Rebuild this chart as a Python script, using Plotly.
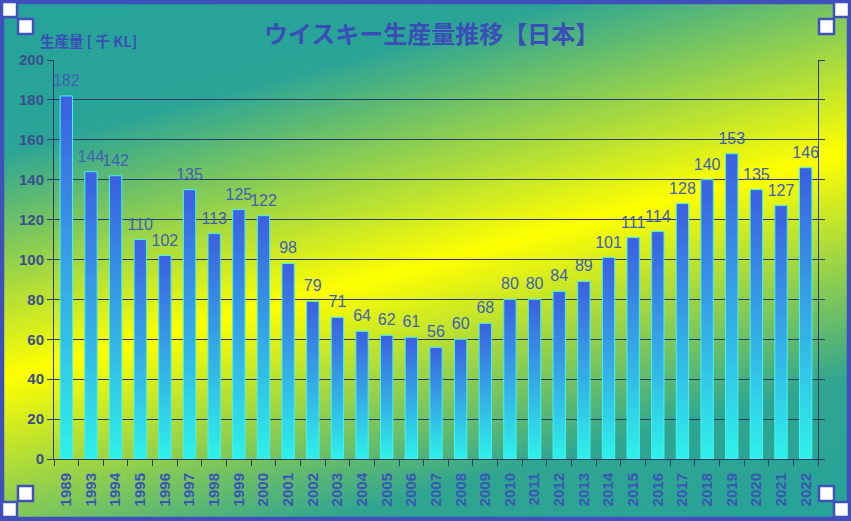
import base64
import plotly.graph_objects as go

# ---- data ----
years = ['1989', '1993', '1994', '1995', '1996', '1997', '1998', '1999', '2000', '2001',
         '2002', '2003', '2004', '2005', '2006', '2007', '2008', '2009', '2010', '2011',
         '2012', '2013', '2014', '2015', '2016', '2017', '2018', '2019', '2020', '2021', '2022']
production = [182, 144, 142, 110, 102, 135, 113, 125, 122, 98,
              79, 71, 64, 62, 61, 56, 60, 68, 80, 80,
              84, 89, 101, 111, 114, 128, 140, 153, 135, 127, 146]
y_ticks = list(range(0, 201, 20))
title_text = 'ウイスキー生産量推移【日本】'
y_title = '生産量 [ 千 KL]'

# ---- geometry ----
W, H = 851, 521
L, R, T, B = 54, 33, 60, 62
pw, ph = W - L - R, H - T - B


def px(x):
    return (x - L) / pw


def py(y):
    return 1 - (y - T) / ph


def hexmix(c1, c2, t):
    a = [int(c1[i:i + 2], 16) for i in (1, 3, 5)]
    b = [int(c2[i:i + 2], 16) for i in (1, 3, 5)]
    return 'rgb(%d,%d,%d)' % tuple(round(a[i] + (b[i] - a[i]) * t) for i in range(3))


BOTTOM_C = '#2ef4ea'
TOP_C = '#3c60e2'
NSEG = 40

fig = go.Figure()

# gradient bars built from stacked, slightly overlapping segments (per-bar vertical gradient)
for k in range(NSEG):
    t = (k + 0.5) / NSEG
    ext = 0 if k == 0 else 0.6
    fig.add_trace(go.Bar(
        x=years, y=[v * (1 + ext) / NSEG for v in production],
        base=[v * (k - ext) / NSEG for v in production],
        width=0.5, marker=dict(color=hexmix(BOTTOM_C, TOP_C, t), line=dict(width=0)),
        hoverinfo='skip', showlegend=False))

# outline
fig.add_trace(go.Bar(
    x=years, y=production, width=0.5,
    marker=dict(color='rgba(0,0,0,0)', line=dict(color='#45f2f2', width=1)),
    showlegend=False))

# value labels
fig.add_trace(go.Scatter(
    x=years, y=production, mode='markers+text',
    marker=dict(size=8, opacity=0), text=[str(v) for v in production],
    textposition='top center', cliponaxis=False,
    textfont=dict(family='Liberation Sans, Arial', size=16, color='#4060b4'),
    hoverinfo='skip', showlegend=False))

svg = f'''<svg xmlns="http://www.w3.org/2000/svg" width="{W}" height="{H}" viewBox="0 0 {W} {H}" preserveAspectRatio="none">
<defs><linearGradient id="g" gradientUnits="userSpaceOnUse" x1="330" y1="-88" x2="520" y2="618">
<stop offset="0" stop-color="#25a39b"/>
<stop offset="0.2" stop-color="#2aa497"/>
<stop offset="0.5" stop-color="#ffff00"/>
<stop offset="0.8" stop-color="#30a590"/>
<stop offset="1" stop-color="#25a39b"/>
</linearGradient></defs><rect width="{W}" height="{H}" fill="url(#g)"/></svg>'''
src = 'data:image/svg+xml;base64,' + base64.b64encode(svg.encode()).decode()

shapes = []
# outer frame
shapes.append(dict(type='rect', xref='paper', yref='paper', x0=px(2), x1=px(W - 2), y0=py(H - 2), y1=py(2),
                   line=dict(color='#3f4fbb', width=4.5), fillcolor='rgba(0,0,0,0)', layer='above'))
# corner handles
handles = [(2, 2), (18, 19), (834, 2), (819, 19), (2, 502), (18, 486), (834, 502), (819, 486)]
for (hx, hy) in handles:
    shapes.append(dict(type='rect', xref='paper', yref='paper', x0=px(hx), x1=px(hx + 15),
                       y0=py(hy + 15), y1=py(hy), line=dict(color='#3f4fbb', width=2.5),
                       fillcolor='white', layer='above'))

fig.update_layout(
    width=W, height=H, margin=dict(l=L, r=R, t=T, b=B, autoexpand=False),
    barmode='overlay', bargap=0.5,
    paper_bgcolor='#2aa497', plot_bgcolor='rgba(0,0,0,0)',
    images=[dict(source=src, xref='paper', yref='paper', x=px(0), y=py(0), sizex=W / pw, sizey=H / ph,
                 xanchor='left', yanchor='top', sizing='stretch', layer='below')],
    shapes=shapes,
    annotations=[
        dict(text=title_text, xref='paper', yref='paper', x=px(431), y=py(33), showarrow=False,
             xanchor='center', yanchor='middle',
             font=dict(family='Noto Sans CJK JP', size=24, color='#3b4db8', weight='bold')),
        dict(text=y_title, xref='paper', yref='paper', x=px(38), y=py(41), showarrow=False,
             xanchor='left', yanchor='middle',
             font=dict(family='Noto Sans CJK JP', size=14.5, color='#3b4db8', weight='bold')),
    ],
    xaxis=dict(type='category', range=[-0.5, len(years) - 0.5], tickangle=-90, ticks='outside',
               ticklen=6, tickcolor='#2a3a6a',
               tickson='boundaries', showline=True, linecolor='#2a3a6a', linewidth=1,
               ticklabelstandoff=7,
               tickfont=dict(family='Liberation Sans, Arial', size=15, color='#3a55b5', weight='bold'),
               showgrid=False),
    yaxis=dict(range=[0, 200], tickvals=y_ticks, ticks='outside', ticklen=6, tickcolor='#2a3a6a',
               showline=True, linecolor='#2a3a6a', linewidth=1, mirror='ticks',
               showgrid=True, gridcolor='#2a3a6a', gridwidth=1, zeroline=False,
               tickfont=dict(family='Liberation Sans, Arial', size=15, color='#3b4e8c', weight='bold')),
)

fig.write_html('out.html', config={'displayModeBar': False},
               post_script="document.body.style.margin='0';")
